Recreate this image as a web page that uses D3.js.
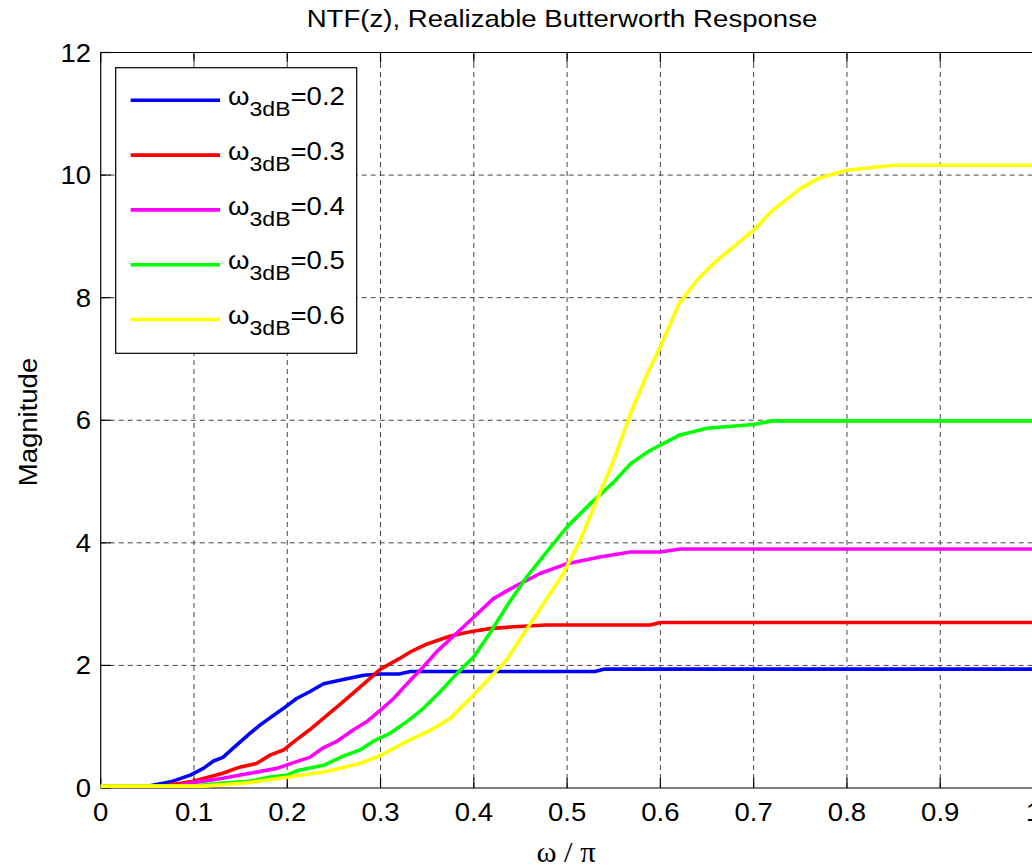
<!DOCTYPE html>
<html><head><meta charset="utf-8">
<script src="https://cdn.jsdelivr.net/npm/d3@7"></script>
<style>html,body{margin:0;padding:0;background:#fff;overflow:hidden}</style>
</head><body>
<script>
// ---- data ----
const xTicks = [0,0.1,0.2,0.3,0.4,0.5,0.6,0.7,0.8,0.9,1];
const xTickLabels = ["0","0.1","0.2","0.3","0.4","0.5","0.6","0.7","0.8","0.9","1"];
const yTicks = [0,2,4,6,8,10,12];
const yTickLabels = ["0","2","4","6","8","10","12"];
const seriesNames = ["0.2","0.3","0.4","0.5","0.6"];
const seriesColors = ["#0000ff","#ff0000","#ff00ff","#00ff00","#ffff00"];

const wBlue = [0,0.05,0.075,0.096,0.11,0.121,0.131,0.142,0.16,0.171,0.196,0.21,0.224,0.239,0.26,0.282,0.30,0.32,0.332,0.53,0.54,1.0];
const magBlue = [0.03,0.03,0.1,0.21,0.32,0.44,0.5,0.65,0.89,1.03,1.30,1.46,1.57,1.70,1.77,1.84,1.86,1.86,1.90,1.90,1.94,1.94];

const wRed = [0,0.065,0.096,0.131,0.149,0.167,0.182,0.196,0.21,0.224,0.239,0.26,0.282,0.30,0.32,0.332,0.35,0.375,0.396,0.417,0.443,0.478,0.589,0.6,1.0];
const magRed = [0.03,0.03,0.10,0.24,0.34,0.40,0.54,0.62,0.79,0.95,1.14,1.41,1.70,1.94,2.11,2.22,2.35,2.48,2.55,2.60,2.63,2.66,2.66,2.70,2.70];

const wMagenta = [0,0.08,0.096,0.131,0.16,0.189,0.21,0.224,0.239,0.253,0.271,0.285,0.30,0.314,0.332,0.346,0.36,0.389,0.421,0.443,0.471,0.5,0.535,0.568,0.6,0.621,1.0];
const magMagenta = [0.03,0.03,0.08,0.16,0.24,0.32,0.43,0.50,0.66,0.76,0.95,1.08,1.27,1.46,1.76,1.98,2.22,2.63,3.09,3.28,3.50,3.66,3.77,3.85,3.85,3.90,3.90];

const wGreen = [0,0.1,0.131,0.16,0.182,0.2,0.21,0.239,0.26,0.278,0.292,0.31,0.328,0.346,0.364,0.382,0.40,0.417,0.435,0.457,0.478,0.5,0.525,0.55,0.568,0.586,0.603,0.621,0.65,0.70,0.72,1.0];
const magGreen = [0.03,0.03,0.08,0.11,0.18,0.21,0.28,0.37,0.52,0.62,0.76,0.89,1.08,1.30,1.57,1.87,2.14,2.52,2.96,3.45,3.85,4.26,4.64,4.99,5.29,5.48,5.62,5.76,5.87,5.93,5.99,5.99];

const wYellow = [0,0.11,0.16,0.192,0.242,0.278,0.30,0.328,0.357,0.375,0.382,0.40,0.417,0.435,0.468,0.496,0.514,0.532,0.55,0.568,0.586,0.6,0.62,0.64,0.66,0.68,0.70,0.72,0.75,0.77,0.80,0.85,1.0];
const magYellow = [0.03,0.03,0.09,0.16,0.27,0.40,0.53,0.76,0.97,1.14,1.25,1.52,1.80,2.09,2.85,3.50,4.04,4.70,5.35,6.11,6.76,7.2,7.9,8.3,8.6,8.85,9.1,9.42,9.78,9.95,10.08,10.16,10.16];

const seriesW = [wBlue,wRed,wMagenta,wGreen,wYellow];
const seriesMag = [magBlue,magRed,magMagenta,magGreen,magYellow];

// ---- layout ----
const W = 1032, H = 868;
const L = 100.7, R = 1033.5, T = 52.5, B = 788;
const SX = 1.1; // horizontal glyph stretch

const svg = d3.select("body").append("svg").attr("width",W).attr("height",H)
  .style("font-family","'Liberation Sans', Arial, sans-serif");

const x = d3.scaleLinear().domain([0,1]).range([L,R]);
const y = d3.scaleLinear().domain([0,12]).range([B,T]);

// grid
const grid = svg.append("g").attr("stroke","#444").attr("stroke-width",1).attr("stroke-dasharray","5,4").attr("fill","none");
xTicks.slice(1).forEach(t=>{
  grid.append("line").attr("x1",x(t)).attr("x2",x(t)).attr("y1",B).attr("y2",T);
});
yTicks.slice(1,-1).forEach(t=>{
  grid.append("line").attr("x1",L).attr("x2",R).attr("y1",y(t)).attr("y2",y(t));
});

// axes lines and inner ticks
const ax = svg.append("g").attr("stroke","#000").attr("stroke-width",1.2).attr("fill","none");
ax.append("line").attr("x1",L).attr("x2",R).attr("y1",B).attr("y2",B);
ax.append("line").attr("x1",L).attr("x2",R).attr("y1",T).attr("y2",T);
ax.append("line").attr("x1",L).attr("x2",L).attr("y1",T).attr("y2",B);
xTicks.forEach(t=>{
  ax.append("line").attr("x1",x(t)).attr("x2",x(t)).attr("y1",B).attr("y2",B-10);
  ax.append("line").attr("x1",x(t)).attr("x2",x(t)).attr("y1",T).attr("y2",T+10);
});
yTicks.forEach(t=>{
  ax.append("line").attr("x1",L).attr("x2",L+10).attr("y1",y(t)).attr("y2",y(t));
});

// tick labels
function stext(g, tx, ty, str, size, anchor, sx){
  return g.append("text").attr("transform",`translate(${tx},${ty}) scale(${sx||SX},1)`)
    .attr("text-anchor",anchor).attr("font-size",size).attr("fill","#000").text(str);
}
xTicks.forEach((t,i)=> stext(svg, x(t), 821, xTickLabels[i], 25, "middle"));
yTicks.forEach((t,i)=> stext(svg, 91, y(t)+9, yTickLabels[i], 25, "end"));

// title & labels
stext(svg, 562, 27, "NTF(z), Realizable Butterworth Response", 24, "middle", 1.15);
svg.append("text").attr("transform","translate(37,422) rotate(-90) scale(1.1,1)")
  .attr("text-anchor","middle").attr("font-size",25).text("Magnitude");
svg.append("text").attr("transform","translate(566,862) scale(1.05,1)")
  .attr("text-anchor","middle").attr("font-size",29)
  .attr("font-family","'Liberation Serif','Times New Roman',serif").text("ω / π");

// curves
const line = d3.line().x(d=>x(d[0])).y(d=>y(d[1]));
const plot = svg.append("g");
seriesW.forEach((ws,i)=>{
  const pts = ws.map((w,j)=>[w, seriesMag[i][j]]);
  plot.append("path").attr("d",line(pts)).attr("fill","none")
    .attr("stroke",seriesColors[i]).attr("stroke-width",3.6)
    .attr("stroke-linejoin","round").attr("stroke-linecap","butt");
});

// legend
const lg = svg.append("g");
lg.append("rect").attr("x",115.7).attr("y",67.7).attr("width",241).attr("height",285.6)
  .attr("fill","#fff").attr("stroke","#000").attr("stroke-width",1.2);
seriesNames.forEach((n,i)=>{
  const ry = 100.3 + i*54.8;
  lg.append("line").attr("x1",130.7).attr("x2",220).attr("y1",ry).attr("y2",ry)
    .attr("stroke",seriesColors[i]).attr("stroke-width",3.6);
  const t = lg.append("text").attr("transform",`translate(228,${ry+4.7}) scale(${SX},1)`)
    .attr("font-size",25).attr("fill","#000");
  t.append("tspan").text("ω");
  t.append("tspan").attr("font-size",21).attr("dy",11).text("3dB");
  t.append("tspan").attr("dy",-11).text("=" + n);
});
</script>
</body></html>
